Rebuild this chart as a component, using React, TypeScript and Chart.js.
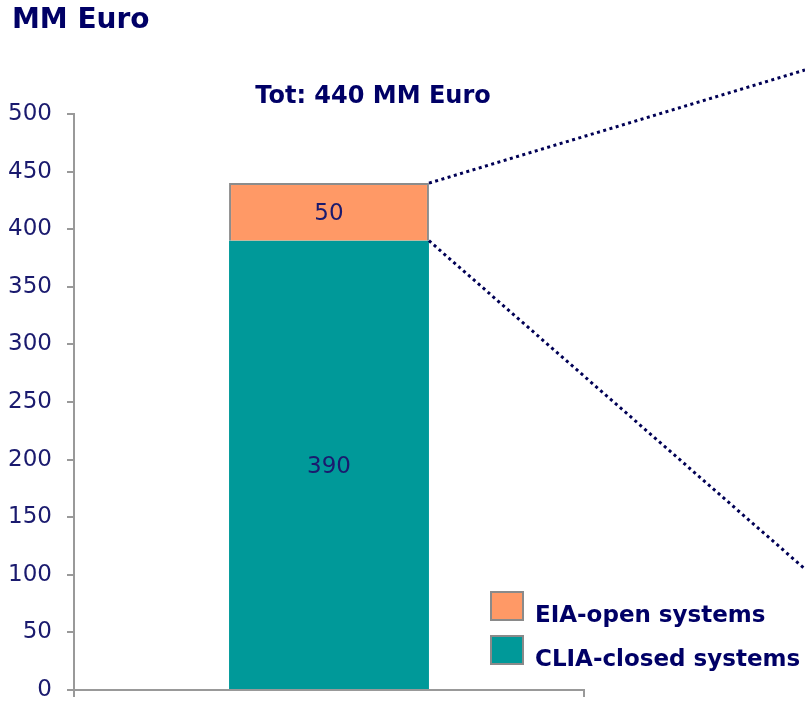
import React, { useEffect, useRef } from "react";
import { Chart, registerables } from "chart.js";

Chart.register(...registerables);

const categories = [""];
const seriesNames = ["CLIA-closed systems", "EIA-open systems"];
const cliaValues = [390];
const eiaValues = [50];
const yTicks = [0, 50, 100, 150, 200, 250, 300, 350, 400, 450, 500];
const unitTitle = "MM Euro";
const totalLabel = "Tot: 440 MM Euro";

const NAVY = "#000066";
const TICK_TEXT = "#1a1a6e";
const GRAY = "#999999";
const ORANGE = "#FF9966";
const TEAL = "#009999";

const overlayPlugin = {
  id: "overlay",
  afterDatasetsDraw(chart: any) {
    const ctx = chart.ctx;
    ctx.save();
    // data labels
    chart.data.datasets.forEach((ds: any, di: number) => {
      const meta = chart.getDatasetMeta(di);
      meta.data.forEach((el: any, i: number) => {
        const v = ds.data[i];
        const cy = (el.y + el.base) / 2;
        ctx.font = "23px 'DejaVu Sans'";
        ctx.fillStyle = TICK_TEXT;
        ctx.textAlign = "center";
        ctx.textBaseline = "alphabetic";
        ctx.fillText(String(v), el.x, cy + 8.5);
      });
    });
    // dotted zoom lines
    const topEl = chart.getDatasetMeta(1).data[0];
    const botEl = chart.getDatasetMeta(0).data[0];
    const rx = topEl.x + topEl.width / 2;
    ctx.strokeStyle = "#000055";
    ctx.lineWidth = 3;
    ctx.setLineDash([3, 3.5]);
    ctx.beginPath();
    ctx.moveTo(rx, topEl.y);
    ctx.lineTo(805, 70);
    ctx.moveTo(rx, botEl.y);
    ctx.lineTo(805, 569);
    ctx.stroke();
    ctx.setLineDash([]);
    // legend
    const items = [
      { label: seriesNames[1], color: ORANGE, y: 592 },
      { label: seriesNames[0], color: TEAL, y: 636 },
    ];
    items.forEach((it) => {
      ctx.fillStyle = it.color;
      ctx.fillRect(491, it.y, 32, 28);
      ctx.strokeStyle = "#8a8a8a";
      ctx.lineWidth = 2;
      ctx.strokeRect(491, it.y, 32, 28);
      ctx.fillStyle = NAVY;
      ctx.font = "bold 23px 'DejaVu Sans'";
      ctx.textAlign = "left";
      ctx.textBaseline = "alphabetic";
      ctx.fillText(it.label, 535, it.y + 30);
    });
    // titles
    ctx.fillStyle = NAVY;
    ctx.font = "bold 28px 'DejaVu Sans'";
    ctx.textAlign = "left";
    ctx.fillText(unitTitle, 12, 28);
    ctx.font = "bold 24px 'DejaVu Sans'";
    ctx.textAlign = "center";
    ctx.fillText(totalLabel, 373, 103);
    ctx.restore();
  },
};

export default function App() {
  const ref = useRef<HTMLCanvasElement>(null);
  useEffect(() => {
    if (!ref.current) return;
    const chart = new Chart(ref.current, {
      type: "bar",
      data: {
        labels: categories,
        datasets: [
          {
            label: seriesNames[0],
            data: cliaValues,
            backgroundColor: TEAL,
            borderWidth: 0,
            barPercentage: 0.392,
            categoryPercentage: 1,
          },
          {
            label: seriesNames[1],
            data: eiaValues,
            backgroundColor: ORANGE,
            borderColor: "#8c8c8c",
            borderWidth: 2,
            borderSkipped: "bottom",
            barPercentage: 0.392,
            categoryPercentage: 1,
          },
        ],
      },
      options: {
        responsive: false,
        animation: false,
        layout: { padding: { top: 114, right: 221, bottom: 0, left: 0 } },
        plugins: {
          legend: { display: false },
          tooltip: { enabled: false },
        },
        scales: {
          x: {
            stacked: true,
            grid: {
              display: true,
              drawOnChartArea: false,
              drawTicks: true,
              tickLength: 7,
              offset: true,
              color: GRAY,
              lineWidth: 2,
            },
            border: { display: true, color: GRAY, width: 2 },
            ticks: { display: true, font: { size: 1 } },
            afterFit: (scale: any) => {
              scale.height = 12;
              scale.paddingLeft = 0;
              scale.paddingRight = 0;
            },
          },
          y: {
            stacked: true,
            min: 0,
            max: 500,
            afterBuildTicks: (scale: any) => {
              scale.ticks = yTicks.map((v) => ({ value: v }));
            },
            grid: {
              drawOnChartArea: false,
              drawTicks: true,
              tickLength: 7,
              color: GRAY,
              lineWidth: 2,
            },
            border: { display: true, color: GRAY, width: 2 },
            ticks: {
              padding: 15,
              color: TICK_TEXT,
              font: { family: "'DejaVu Sans'", size: 23 },
            },
            afterFit: (scale: any) => {
              scale.width = 74;
              scale.paddingTop = 0;
              scale.paddingBottom = 0;
            },
          },
        },
      },
      plugins: [overlayPlugin],
    });
    return () => chart.destroy();
  }, []);
  return (
    <div style={{ position: "fixed", left: 0, top: 0, width: 805, height: 702, background: "#fff" }}>
      <canvas ref={ref} width={805} height={702} />
    </div>
  );
}
